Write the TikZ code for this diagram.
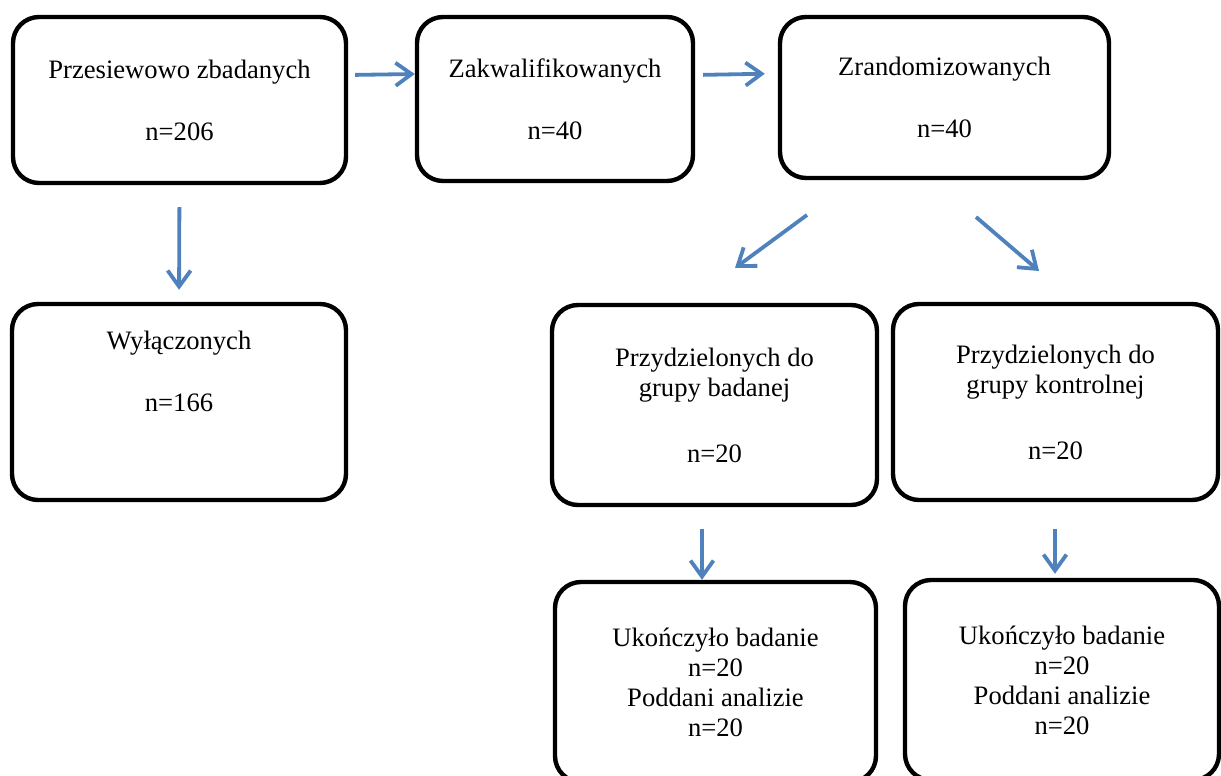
\documentclass[tikz,border=0pt]{standalone}
\usepackage{fontspec}
\setmainfont{Liberation Serif}
\usetikzlibrary{arrows.meta}
\definecolor{flowblue}{HTML}{4F81BD}

\begin{document}
\begin{tikzpicture}[x=0.5pt, y=-0.5pt,
    box/.style={draw, line width=2.2pt, rounded corners=13pt, align=center, inner sep=0pt,
      font=\fontsize{13.3}{15}\selectfont},
    flow/.style={draw=flowblue, line width=1.9pt, -{Straight Barb[length=8pt, width=11.5pt]}}]
		\useasboundingbox (0,0) rectangle (1221,776);
		\clip (0,0) rectangle (1221,776);
		
		\node[box, minimum width=166.5pt, minimum height=83pt] (scr) at (179.5,100) {Przesiewowo zbadanych\\[16pt]n=206};
		\node[box, minimum width=138pt, minimum height=82pt] (qual) at (555,99) {Zakwalifikowanych\\[16pt]n=40};
		\node[box, minimum width=164.5pt, minimum height=80.5pt] (rand) at (944.5,97.5) {Zrandomizowanych\\[16pt]n=40};
		\node[box, minimum width=167pt, minimum height=98pt] (excl) at (179,402) {Wyłączonych\\[16pt]n=166\\[16pt]\mbox{}};
		\node[box, minimum width=162.5pt, minimum height=100pt] (grpA) at (714.5,405) {Przydzielonych do\\grupy badanej\\[18pt]n=20};
		\node[box, minimum width=162.5pt, minimum height=98pt] (grpB) at (1055.5,402) {Przydzielonych do\\grupy kontrolnej\\[18pt]n=20};
		\node[box, minimum width=160.5pt, minimum height=100pt] (endA) at (715.5,682) {Ukończyło badanie\\n=20\\Poddani analizie\\n=20};
		\node[box, minimum width=157pt, minimum height=100pt] (endB) at (1062,680) {Ukończyło badanie\\n=20\\Poddani analizie\\n=20};
		
		\coordinate (splitA) at (807,215);
		\coordinate (splitB) at (976,217);
		\coordinate (downA) at (702,529);
		\coordinate (downB) at (1055,529);
		
		\draw[flow, shorten <=3.5pt] ([yshift=12.5pt]scr.east) -- ([yshift=12.5pt]qual.west);
		\draw[flow, shorten <=4pt, shorten >=6.5pt] ([yshift=12pt]qual.east) -- ([yshift=12pt]rand.west);
		\draw[flow, shorten <=11pt, shorten >=6pt] (scr.south) -- (excl.north);
		\draw[flow] (splitA) -- (735,268);
		\draw[flow] (splitB) -- (1039,271);
		\draw[flow] (downA) -- (downA |- endA.north);
		\draw[flow, shorten >=2pt] (downB) -- (downB |- endB.north);
	\end{tikzpicture}
\end{document}
